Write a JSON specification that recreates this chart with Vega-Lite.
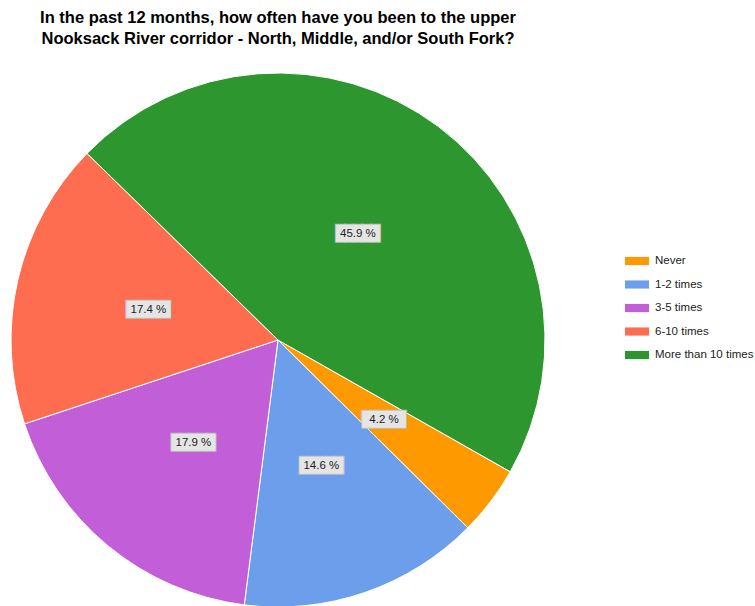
{
  "$schema": "https://vega.github.io/schema/vega-lite/v6.json",
  "width": 534,
  "height": 534,
  "autosize": {"type": "none"},
  "padding": {"left": 11, "top": 73, "right": 210, "bottom": 0},
  "background": "white",
  "config": {"view": {"stroke": null}, "font": "Liberation Sans"},
  "title": {
    "text": ["In the past 12 months, how often have you been to the upper", "Nooksack River corridor - North, Middle, and/or South Fork?"],
    "anchor": "middle",
    "frame": "group",
    "font": "Liberation Sans",
    "fontSize": 16.5,
    "fontWeight": "bold",
    "lineHeight": 21,
    "color": "#000000",
    "offset": 24
  },
  "data": {
    "values": [
      {"answer": "Never", "value": 4.2, "label": "4.2 %", "rank": 1},
      {"answer": "1-2 times", "value": 14.6, "label": "14.6 %", "rank": 2},
      {"answer": "3-5 times", "value": 17.9, "label": "17.9 %", "rank": 3},
      {"answer": "6-10 times", "value": 17.4, "label": "17.4 %", "rank": 4},
      {"answer": "More than 10 times", "value": 45.9, "label": "45.9 %", "rank": 5}
    ]
  },
  "encoding": {
    "theta": {"field": "value", "type": "quantitative", "stack": true, "scale": {"range": [2.087, 8.370]}},
    "order": {"field": "rank", "type": "quantitative", "sort": "ascending"}
  },
  "layer": [
    {
      "mark": {"type": "arc", "stroke": "white", "strokeWidth": 1},
      "encoding": {
        "color": {
          "field": "answer",
          "type": "nominal",
          "scale": {
            "domain": ["Never", "1-2 times", "3-5 times", "6-10 times", "More than 10 times"],
            "range": ["#ff9900", "#6d9eeb", "#c25fd8", "#ff6d51", "#2e962e"]
          },
          "legend": {
            "title": null,
            "orient": "none",
            "legendX": 614,
            "legendY": 176,
            "symbolType": "M-1,-0.34H1V0.34H-1Z",
            "symbolSize": 576,
            "symbolStrokeWidth": 0,
            "symbolOpacity": 1,
            "labelFont": "Liberation Sans",
            "labelFontSize": 11.5,
            "labelColor": "#222222",
            "labelOffset": 6,
            "rowPadding": 5.5
          }
        }
      }
    },
    {
      "mark": {"type": "text", "font": "DejaVu Sans Mono", "fontSize": 14.5, "fill": "#e5e5e5", "stroke": "#bdbdbd", "strokeWidth": 2, "baseline": "middle", "align": "center"},
      "encoding": {"text": {"value": "█████"}, "radius": {"value": 133}}
    },
    {
      "mark": {"type": "text", "font": "DejaVu Sans Mono", "fontSize": 14.5, "fill": "#e5e5e5", "baseline": "middle", "align": "center"},
      "encoding": {"text": {"value": "█████"}, "radius": {"value": 133}}
    },
    {
      "mark": {"type": "text", "font": "Liberation Sans", "fontSize": 11.5, "fill": "#222222", "baseline": "middle", "align": "center"},
      "encoding": {"text": {"field": "label"}, "radius": {"value": 133}}
    }
  ]
}
